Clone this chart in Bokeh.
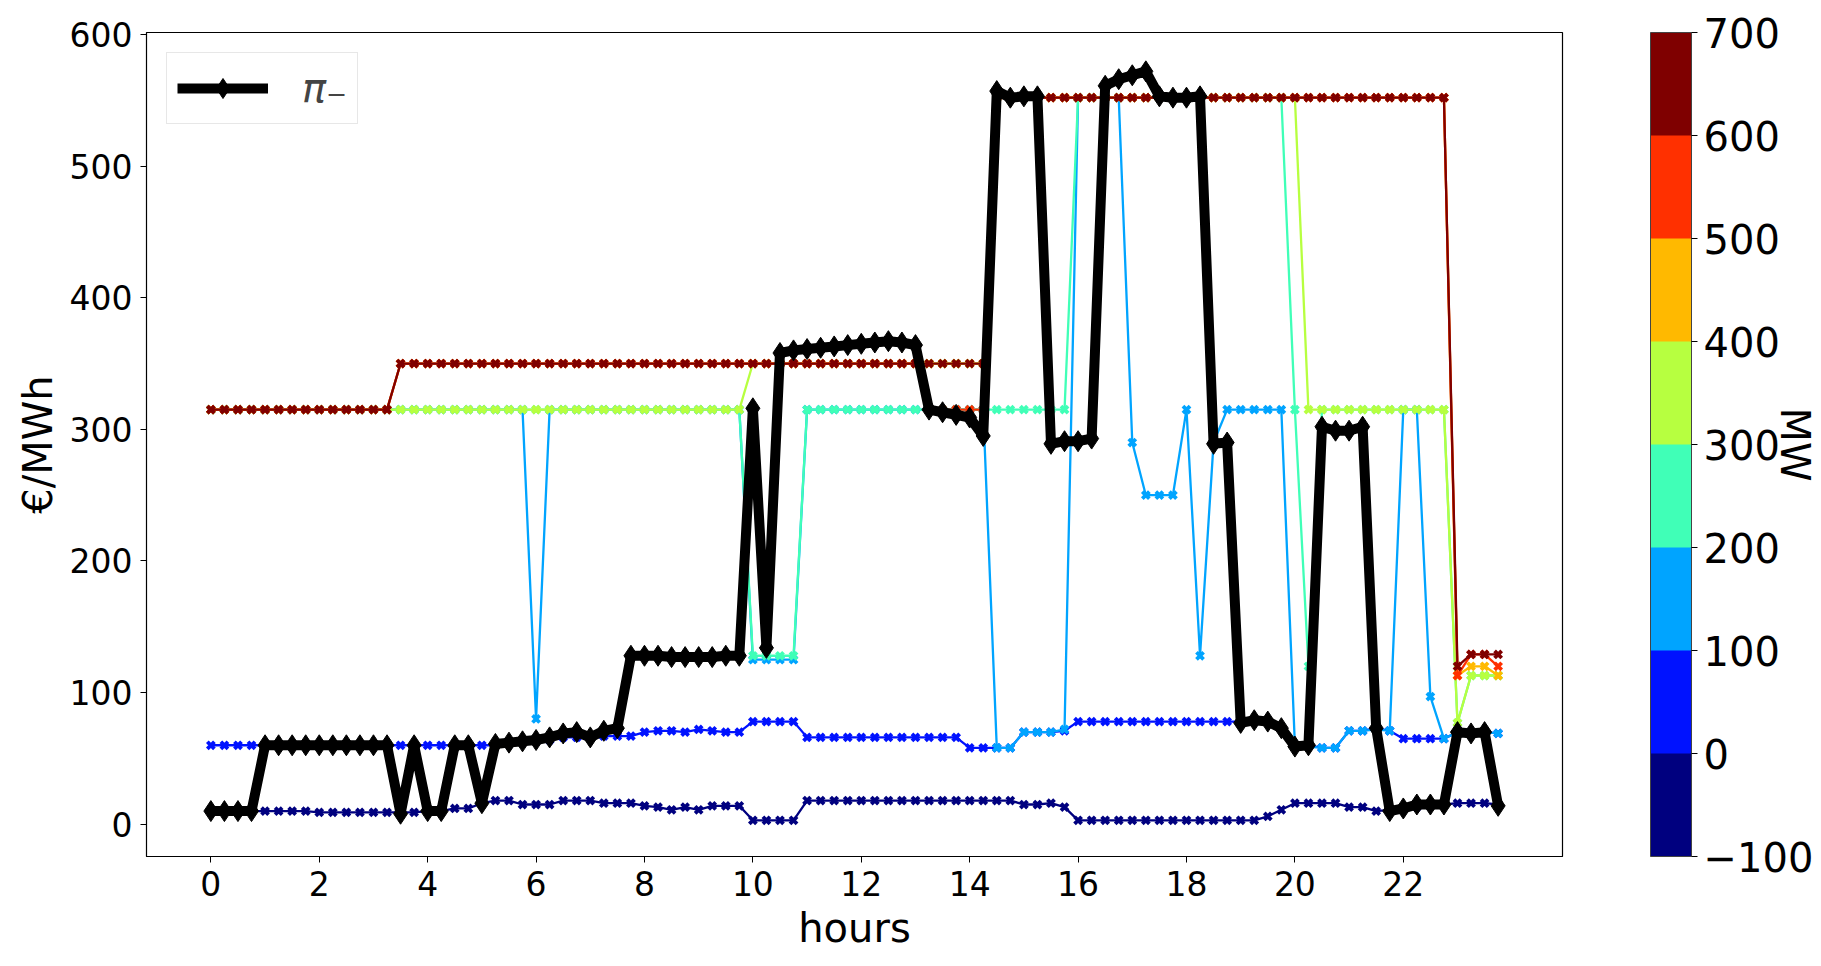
from bokeh.plotting import figure
from bokeh.models import (Range1d, FixedTicker, Legend, LegendItem, Label,
                          ColorBar, LinearColorMapper)
from bokeh.layouts import row
from bokeh.embed import file_html
from bokeh.resources import INLINE

# ---------------- data ----------------
hours = [i * 0.25 for i in range(96)]

pi_minus = [10, 10, 10, 10, 60, 60, 60, 60, 60, 60, 60, 60,
            60, 60, 8, 60, 10, 10, 60, 60, 16, 61, 62, 63,
            64, 66, 69, 70, 66, 71, 73, 128, 128, 128, 127, 127,
            127, 127, 128, 128, 316, 134, 358, 360, 361, 362, 363, 364,
            365, 366, 367, 366, 364, 315, 313, 311, 309, 295, 557, 552,
            553, 553, 289, 291, 291, 293, 561, 566, 569, 572, 553, 552,
            552, 553, 289, 290, 77, 79, 78, 73, 59, 60, 302, 299,
            299, 302, 73, 10, 12, 15, 15, 15, 70, 69, 70, 14]

lvl_m100 = [10, 10, 10, 10, 10, 10, 10, 10, 9, 9, 9, 9,
            9, 9, 9, 9, 10, 10, 12, 12, 16, 18, 18, 15,
            15, 15, 18, 18, 18, 16, 16, 16, 14, 13, 11, 13,
            11, 14, 14, 14, 3, 3, 3, 3, 18, 18, 18, 18,
            18, 18, 18, 18, 18, 18, 18, 18, 18, 18, 18, 18,
            15, 15, 16, 13, 3, 3, 3, 3, 3, 3, 3, 3,
            3, 3, 3, 3, 3, 3, 6, 11, 16, 16, 16, 16,
            13, 13, 10, 11, 12, 13, 14, 15, 16, 16, 16, 15]

lvl_0 = [60, 60, 60, 60, 60, 60, 60, 60, 60, 60, 60, 60,
         60, 60, 60, 60, 60, 60, 60, 60, 60, 60, 61, 62,
         63, 64, 66, 66, 66, 67, 67, 67, 70, 71, 71, 70,
         72, 71, 70, 70, 78, 78, 78, 78, 66, 66, 66, 66,
         66, 66, 66, 66, 66, 66, 66, 66, 58, 58, 58, 58,
         70, 70, 70, 71, 78, 78, 78, 78, 78, 78, 78, 78,
         78, 78, 78, 78, 78, 78, 78, 73, 60, 60, 58, 58,
         71, 71, 73, 71, 65, 65, 65, 65, 70, 70, 70, 69]

lvl_100 = [315, 315, 315, 315, 315, 315, 315, 315, 315, 315, 315, 315,
           315, 315, 315, 315, 315, 315, 315, 315, 315, 315, 315, 315,
           80, 315, 315, 315, 315, 315, 315, 315, 315, 315, 315, 315,
           315, 315, 315, 315, 125, 125, 125, 125, 315, 315, 315, 315,
           315, 315, 315, 315, 315, 315, 315, 315, 315, 315, 58, 58,
           70, 70, 70, 72, 552, 552, 552, 552, 290, 250, 250, 250,
           315, 128, 290, 315, 315, 315, 315, 315, 60, 59, 58, 58,
           71, 71, 72, 71, 315, 315, 97, 65, 70, 70, 70, 69]

lvl_200 = [315, 315, 315, 315, 315, 315, 315, 315, 315, 315, 315, 315,
           315, 315, 315, 315, 315, 315, 315, 315, 315, 315, 315, 315,
           315, 315, 315, 315, 315, 315, 315, 315, 315, 315, 315, 315,
           315, 315, 315, 315, 128, 128, 128, 128, 315, 315, 315, 315,
           315, 315, 315, 315, 315, 315, 315, 315, 315, 315, 315, 315,
           315, 315, 315, 315, 552, 552, 552, 552, 552, 552, 552, 552,
           552, 552, 552, 552, 552, 552, 552, 552, 315, 120, 315, 315,
           315, 315, 315, 315, 315, 315, 315, 315, 77, 113, 113, 113]

lvl_300 = [315, 315, 315, 315, 315, 315, 315, 315, 315, 315, 315, 315,
           315, 315, 315, 315, 315, 315, 315, 315, 315, 315, 315, 315,
           315, 315, 315, 315, 315, 315, 315, 315, 315, 315, 315, 315,
           315, 315, 315, 315, 350, 350, 350, 350, 350, 350, 350, 350,
           350, 350, 350, 350, 350, 350, 350, 350, 350, 350, 552, 552,
           552, 552, 552, 552, 552, 552, 552, 552, 552, 552, 552, 552,
           552, 552, 552, 552, 552, 552, 552, 552, 552, 315, 315, 315,
           315, 315, 315, 315, 315, 315, 315, 315, 77, 113, 113, 113]

lvl_400 = [315, 315, 315, 315, 315, 315, 315, 315, 315, 315, 315, 315,
           315, 315, 350, 350, 350, 350, 350, 350, 350, 350, 350, 350,
           350, 350, 350, 350, 350, 350, 350, 350, 350, 350, 350, 350,
           350, 350, 350, 350, 350, 350, 350, 350, 350, 350, 350, 350,
           350, 350, 350, 350, 350, 350, 350, 350, 350, 350, 552, 552,
           552, 552, 552, 552, 552, 552, 552, 552, 552, 552, 552, 552,
           552, 552, 552, 552, 552, 552, 552, 552, 552, 552, 552, 552,
           552, 552, 552, 552, 552, 552, 552, 552, 113, 120, 120, 113]

lvl_500 = [315, 315, 315, 315, 315, 315, 315, 315, 315, 315, 315, 315,
           315, 315, 350, 350, 350, 350, 350, 350, 350, 350, 350, 350,
           350, 350, 350, 350, 350, 350, 350, 350, 350, 350, 350, 350,
           350, 350, 350, 350, 350, 350, 350, 350, 350, 350, 350, 350,
           350, 350, 350, 350, 350, 315, 315, 315, 315, 315, 552, 552,
           552, 552, 552, 552, 552, 552, 552, 552, 552, 552, 552, 552,
           552, 552, 552, 552, 552, 552, 552, 552, 552, 552, 552, 552,
           552, 552, 552, 552, 552, 552, 552, 552, 113, 129, 129, 120]

lvl_600 = [315, 315, 315, 315, 315, 315, 315, 315, 315, 315, 315, 315,
           315, 315, 350, 350, 350, 350, 350, 350, 350, 350, 350, 350,
           350, 350, 350, 350, 350, 350, 350, 350, 350, 350, 350, 350,
           350, 350, 350, 350, 350, 350, 350, 350, 350, 350, 350, 350,
           350, 350, 350, 350, 350, 350, 350, 350, 350, 350, 552, 552,
           552, 552, 552, 552, 552, 552, 552, 552, 552, 552, 552, 552,
           552, 552, 552, 552, 552, 552, 552, 552, 552, 552, 552, 552,
           552, 552, 552, 552, 552, 552, 552, 552, 120, 129, 129, 129]

level_series = [lvl_m100, lvl_0, lvl_100, lvl_200, lvl_300, lvl_400, lvl_500, lvl_600]
level_colors = ["#00007f", "#0012ff", "#00a4ff", "#40ffb7",
                "#b7ff40", "#ffb900", "#ff3000", "#7f0000"]
cbar_edges = [-100, 0, 100, 200, 300, 400, 500, 600, 700]

x_ticks = [0, 2, 4, 6, 8, 10, 12, 14, 16, 18, 20, 22]
y_ticks = [0, 100, 200, 300, 400, 500, 600]

FONT = "DejaVu Sans"
TICK_FS = "33px"
LABEL_FS = "40px"

H = 958          # figure height
TOP, BOTTOM = 32, 102
FRAME_H = H - TOP - BOTTOM

# ---------------- main figure ----------------
p = figure(width=1610, height=H,
           x_range=Range1d(-1.1875, 24.9375), y_range=Range1d(-24.5, 601.5),
           output_backend="svg", toolbar_location=None,
           min_border_left=146, min_border_right=48,
           min_border_top=TOP, min_border_bottom=BOTTOM)
p.grid.visible = False
p.background_fill_color = "white"
p.border_fill_color = "white"
p.outline_line_color = "black"
p.outline_line_width = 1.2
p.outline_line_alpha = 1.0

for ax in (p.xaxis[0], p.yaxis[0]):
    ax.major_label_text_font = FONT
    ax.major_label_text_font_size = TICK_FS
    ax.major_label_text_color = "black"
    ax.axis_label_text_font = FONT
    ax.axis_label_text_font_size = LABEL_FS
    ax.axis_label_text_font_style = "normal"
    ax.axis_label_text_color = "black"
    ax.minor_tick_line_color = None
    ax.major_tick_out = 6
    ax.major_tick_in = 0
    ax.major_tick_line_color = "black"
    ax.axis_line_color = "black"
    ax.major_label_standoff = 8

p.xaxis.ticker = FixedTicker(ticks=x_ticks)
p.yaxis.ticker = FixedTicker(ticks=y_ticks)
p.xaxis.axis_label = "hours"
p.yaxis.axis_label = "€/MWh"
p.xaxis.axis_label_standoff = 6
p.yaxis.axis_label_standoff = 6

for vals, col in zip(level_series, level_colors):
    p.line(hours, vals, line_color=col, line_width=2.3)
    p.scatter(hours, vals, marker="x", size=10, line_color=col, line_width=3.8)

r_line = p.line(hours, pi_minus, line_color="black", line_width=10, line_join="round")
r_mark = p.scatter(hours, pi_minus, marker="diamond", size=21,
                   fill_color="black", line_color="black")

legend = Legend(items=[LegendItem(label="π₋", renderers=[r_line, r_mark])],
                location="top_left", margin=20, padding=10,
                glyph_width=91, glyph_height=50, label_height=50,
                label_standoff=34, spacing=0)
legend.label_text_font = FONT
legend.label_text_font_size = "40px"
legend.label_text_font_style = "italic"
legend.border_line_color = "#d0d0d0"
legend.border_line_width = 1
legend.background_fill_color = "white"
legend.background_fill_alpha = 0.85
p.add_layout(legend)

# ---------------- colour bar ----------------
CB_W = 211
cb = figure(width=CB_W, height=H, x_range=Range1d(0, CB_W),
            y_range=Range1d(cbar_edges[0], cbar_edges[-1]),
            x_axis_location=None, y_axis_location=None,
            output_backend="svg", toolbar_location=None,
            min_border_left=0, min_border_right=0,
            min_border_top=TOP, min_border_bottom=BOTTOM)
cb.grid.visible = False
cb.outline_line_color = None
cb.background_fill_color = "white"
cb.border_fill_color = "white"

mapper = LinearColorMapper(palette=level_colors, low=cbar_edges[0], high=cbar_edges[-1])
color_bar = ColorBar(color_mapper=mapper, ticker=FixedTicker(ticks=cbar_edges),
                     major_label_overrides={-100: "−100"},
                     location=(40, 0), orientation="vertical",
                     width=41, height=FRAME_H, padding=0, margin=0,
                     label_standoff=6, major_tick_out=6, major_tick_in=0,
                     major_tick_line_color="black", minor_tick_line_color=None,
                     bar_line_color="#444444", bar_line_width=1,
                     border_line_color=None, background_fill_alpha=0)
color_bar.major_label_text_font = FONT
color_bar.major_label_text_font_size = "40px"
color_bar.major_label_text_color = "black"
cb.add_layout(color_bar)

cb.add_layout(Label(x=184, y=300, text="MW", angle=-1.5708,
                    text_align="center", text_baseline="middle",
                    text_font=FONT, text_font_size="40px", text_color="black"))

layout = row(p, cb)
open("out.html", "w").write(file_html(layout, INLINE))
